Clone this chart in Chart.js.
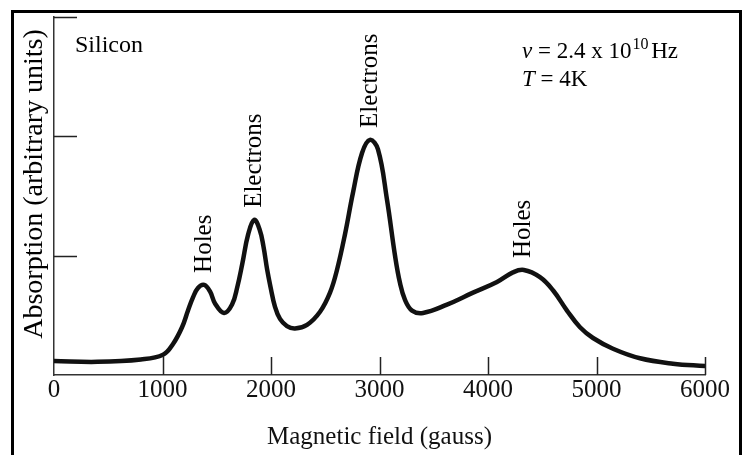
<!DOCTYPE html>
<html>
<head>
<meta charset="utf-8">
<script src="https://cdn.jsdelivr.net/npm/chart.js@4.4.1/dist/chart.umd.min.js"></script>
<style>
  html, body { margin: 0; padding: 0; background: #fff; }
  #wrap { position: relative; width: 747px; height: 455px; }
</style>
</head>
<body>
<div id="wrap"><canvas id="esr"></canvas></div>
<script>
// magnetic field (gauss) and absorption (arbitrary units)
const fieldGauss = [0, 400, 800, 1005, 1097, 1180, 1235, 1281, 1327, 1385, 1438, 1484, 1567, 1641, 1690,
    1735, 1790, 1845, 1895, 1930, 1965, 1995, 2037, 2083, 2147, 2221, 2332, 2452, 2544, 2608,
    2682, 2756, 2839, 2912, 2986, 3069, 3143, 3189, 3235, 3300, 3401, 3622, 3862, 4083, 4230,
    4330, 4479, 4599, 4728, 4848, 4968, 5152, 5401, 5705, 6000];
const absorption = [0.117, 0.11, 0.13, 0.17, 0.26, 0.40, 0.54, 0.65, 0.73, 0.755, 0.70, 0.60, 0.52, 0.59, 0.74,
    0.93, 1.18, 1.30, 1.22, 1.08, 0.88, 0.74, 0.57, 0.47, 0.41, 0.39, 0.42, 0.53, 0.69, 0.88,
    1.18, 1.53, 1.86, 1.97, 1.89, 1.47, 1.00, 0.77, 0.63, 0.54, 0.52, 0.59, 0.69, 0.78, 0.86,
    0.88, 0.82, 0.71, 0.54, 0.40, 0.31, 0.22, 0.14, 0.095, 0.075];

const xTickValues = [1000, 2000, 3000, 4000, 5000, 6000];
const yTickValues = [1, 2, 3];

const peakFields = [1385, 1845, 2912, 4330];
const peakLabels = ["Holes", "Electrons", "Electrons", "Holes"];

const sampleName = "Silicon";
const freqText = ["ν", " = 2.4 x 10", "10", " Hz"];
const tempText = ["T", " = 4K"];
const xTitle = "Magnetic field (gauss)";
const yTitle = "Absorption (arbitrary units)";

const SERIF = "'Liberation Serif', 'DejaVu Serif', serif";

// frame, inward ticks and the text inside the plot
const annotations = {
    id: "annotations",
    afterDraw(chart) {
        const ctx = chart.ctx;
        const xs = chart.scales.x, ys = chart.scales.y;
        const x0 = xs.getPixelForValue(0), y0 = ys.getPixelForValue(0);

        ctx.save();
        // outer frame (bottom edge runs off the picture)
        ctx.strokeStyle = "#000";
        ctx.lineWidth = 3;
        ctx.beginPath();
        ctx.moveTo(12.5, 470);
        ctx.lineTo(12.5, 11.5);
        ctx.lineTo(740.5, 11.5);
        ctx.lineTo(740.5, 470);
        ctx.stroke();

        // ticks pointing into the plot
        ctx.strokeStyle = "#222";
        ctx.lineWidth = 1.5;
        ctx.beginPath();
        xTickValues.forEach(v => {
            const px = Math.round(xs.getPixelForValue(v)) + 0.5;
            ctx.moveTo(px, y0);
            ctx.lineTo(px, y0 - 18);
        });
        yTickValues.forEach(v => {
            const py = Math.round(ys.getPixelForValue(v)) + 0.5;
            ctx.moveTo(x0, py);
            ctx.lineTo(x0 + 23, py);
        });
        ctx.stroke();

        ctx.fillStyle = "#000";

        // y axis title
        ctx.save();
        ctx.translate(42, 184);
        ctx.rotate(-Math.PI / 2);
        ctx.font = "28px " + SERIF;
        ctx.textAlign = "center";
        ctx.textBaseline = "alphabetic";
        ctx.fillText(yTitle, 0, 0);
        ctx.restore();

        // peak labels, written upwards just above each peak
        ctx.font = "25px " + SERIF;
        peakFields.forEach((f, i) => {
            const idx = fieldGauss.indexOf(f);
            const px = xs.getPixelForValue(f);
            const py = ys.getPixelForValue(absorption[idx]);
            ctx.save();
            ctx.translate(px, py - 12);
            ctx.rotate(-Math.PI / 2);
            ctx.textAlign = "left";
            ctx.textBaseline = "middle";
            ctx.fillText(peakLabels[i], 0, 0);
            ctx.restore();
        });

        // sample name
        ctx.textAlign = "left";
        ctx.textBaseline = "alphabetic";
        ctx.font = "24px " + SERIF;
        ctx.fillText(sampleName, 75, 52);

        // frequency line with superscript exponent
        let tx = 522;
        ctx.font = "italic 23px " + SERIF;
        ctx.fillText(freqText[0], tx, 58);
        tx += ctx.measureText(freqText[0]).width;
        ctx.font = "23px " + SERIF;
        ctx.fillText(freqText[1], tx, 58);
        tx += ctx.measureText(freqText[1]).width + 1;
        ctx.font = "16px " + SERIF;
        ctx.fillText(freqText[2], tx, 49);
        tx += ctx.measureText(freqText[2]).width;
        ctx.font = "23px " + SERIF;
        ctx.fillText(freqText[3], tx - 3, 58);

        // temperature line
        tx = 522;
        ctx.font = "italic 23px " + SERIF;
        ctx.fillText(tempText[0], tx, 86);
        tx += ctx.measureText(tempText[0]).width;
        ctx.font = "23px " + SERIF;
        ctx.fillText(tempText[1], tx, 86);

        ctx.restore();
    }
};

document.addEventListener("DOMContentLoaded", function () {
    const ctx = document.getElementById("esr").getContext("2d");
    const points = fieldGauss.map((f, i) => ({ x: f, y: absorption[i] }));

    new Chart(ctx, {
        type: "scatter",
        data: {
            datasets: [{
                data: points,
                showLine: true,
                borderColor: "#111",
                borderWidth: 4.5,
                pointRadius: 0,
                tension: 0.4,
                borderCapStyle: "round",
                borderJoinStyle: "round"
            }]
        },
        options: {
            responsive: true,
            maintainAspectRatio: false,
            animation: false,
            events: [],
            layout: { padding: { left: 0, right: 42, top: 17, bottom: 0 } },
            plugins: {
                legend: { display: false },
                tooltip: { enabled: false }
            },
            scales: {
                x: {
                    type: "linear",
                    min: 0,
                    max: 6000,
                    afterFit: s => { s.height = 80; },
                    grid: { display: true, drawOnChartArea: false, drawTicks: false },
                    border: { display: true, color: "#333", width: 1.5 },
                    ticks: {
                        stepSize: 1000,
                        padding: 0,
                        color: "#111",
                        font: { family: SERIF, size: 25 },
                        maxRotation: 0,
                        callback: v => String(v)
                    },
                    title: {
                        display: true,
                        text: xTitle,
                        color: "#111",
                        font: { family: SERIF, size: 25 },
                        padding: { top: 0, bottom: 3 }
                    }
                },
                y: {
                    type: "linear",
                    min: 0,
                    max: 3,
                    afterFit: s => { s.width = 54; },
                    grid: { display: false },
                    border: { display: true, color: "#333", width: 1.5 },
                    ticks: { display: false }
                }
            }
        },
        plugins: [annotations]
    });
});
</script>
</body>
</html>
